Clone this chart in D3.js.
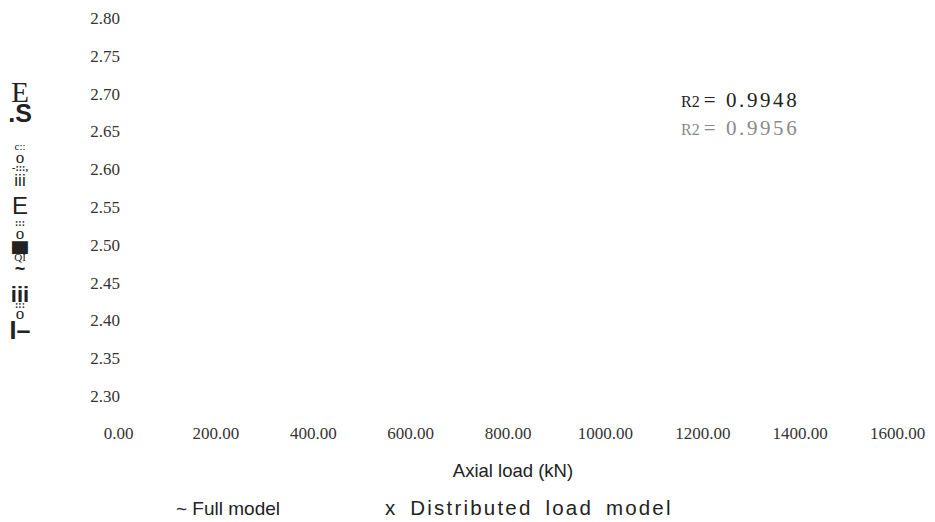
<!DOCTYPE html>
<html>
<head>
<meta charset="utf-8">
<script src="https://cdn.jsdelivr.net/npm/d3@7"></script>
<style>
  html, body { margin: 0; padding: 0; background: #fff; }
  svg { display: block; }
</style>
</head>
<body>
<svg id="chart" width="935" height="522"></svg>
<script>
// Axis ticks
const xTicks = [0, 200, 400, 600, 800, 1000, 1200, 1400, 1600];
const yTicks = [2.30, 2.35, 2.40, 2.45, 2.50, 2.55, 2.60, 2.65, 2.70, 2.75, 2.80];

// Fit annotations
const fitLabels = ["R2", "R2"];
const fitValues = ["0.9948", "0.9956"];

// Legend entries
const legendSymbols = ["~", "x"];
const legendNames = ["Full model", "Distributed load model"];

const xTitle = "Axial load (kN)";

// Vertical axis title, as stacked glyph groups (top to bottom)
const yTitleText = ["E", ".S", "c::", "o", "-:::,", "iii", "E", ":::", "o", "\u2588", "QI", "~", "iii", ":::", "o", "I\u2013"];
const yTitleFont = ["serif", "sans", "serif", "serif", "serif", "sans", "sans", "serif", "serif", "sans", "serif", "sans", "sans", "serif", "serif", "sans"];
const yTitleSize = [29, 25, 11, 17, 10, 17, 24, 10, 17, 14, 11, 18, 22, 10, 17, 25];
const yTitleWeight = [400, 700, 400, 400, 700, 400, 400, 700, 400, 400, 400, 700, 700, 700, 400, 700];
const yTitleBaseline = [102, 122, 150, 163, 171, 186, 214, 226, 239, 251, 261, 275, 302, 308, 319, 339];

const serif = "'Liberation Serif', 'Times New Roman', serif";
const sans = "'Liberation Sans', Arial, sans-serif";

const svg = d3.select("#chart");

const x = d3.scaleLinear().domain([0, 1600]).range([118, 897]);
const y = d3.scaleLinear().domain([2.30, 2.80]).range([396, 18]);

// X axis: labels only
const gx = svg.append("g")
  .attr("transform", "translate(0,427)")
  .call(d3.axisBottom(x).tickValues(xTicks).tickFormat(d3.format(".2f")).tickSize(0).tickPadding(0));
gx.select(".domain").remove();
gx.selectAll("text")
  .attr("font-family", serif).attr("font-size", 17).attr("fill", "#333").attr("dy", "0.71em");

// Y axis: labels only
const gy = svg.append("g")
  .attr("transform", "translate(120,0)")
  .call(d3.axisLeft(y).tickValues(yTicks).tickFormat(d3.format(".2f")).tickSize(0).tickPadding(0));
gy.select(".domain").remove();
gy.selectAll("text")
  .attr("font-family", serif).attr("font-size", 17).attr("fill", "#333");

// Y axis title
const yTitle = svg.append("g").attr("fill", "#222");
yTitle.selectAll("text")
  .data(yTitleText)
  .join("text")
  .attr("x", 20)
  .attr("y", (d, i) => yTitleBaseline[i])
  .attr("text-anchor", "middle")
  .attr("font-family", (d, i) => yTitleFont[i] === "serif" ? serif : sans)
  .attr("font-size", (d, i) => yTitleSize[i])
  .attr("font-weight", (d, i) => yTitleWeight[i])
  .attr("transform", (d, i) => d === "\u2588" ? "translate(20," + yTitleBaseline[i] + ") scale(1.6,0.75) translate(-20," + (-yTitleBaseline[i]) + ")" : null)
  .text(d => d);

// R² annotations
const fitColors = ["#222", "#8a8a8a"];
const fitY = [107, 135];
const fit = svg.append("g").selectAll("text")
  .data(fitLabels)
  .join("text")
  .attr("x", 681)
  .attr("y", (d, i) => fitY[i])
  .attr("fill", (d, i) => fitColors[i])
  .attr("font-family", serif);
fit.append("tspan").attr("font-size", 16).text(d => d);
fit.append("tspan").attr("font-size", 21).attr("dx", 4).attr("letter-spacing", 2.6).text((d, i) => "= " + fitValues[i]);

// X axis title
svg.append("text")
  .attr("x", 513).attr("y", 477)
  .attr("text-anchor", "middle")
  .attr("font-family", sans).attr("font-size", 18.5).attr("fill", "#222")
  .text(xTitle);

// Legend
const legendX = [176, 385];
const legendSize = [19, 20.5];
const legendLetterSpacing = [0, 2.2];
const legendWordSpacing = [0, 5];
svg.append("g").selectAll("text")
  .data(legendNames)
  .join("text")
  .attr("x", (d, i) => legendX[i])
  .attr("y", 515)
  .attr("font-family", sans).attr("font-size", (d, i) => legendSize[i]).attr("fill", "#222")
  .attr("letter-spacing", (d, i) => legendLetterSpacing[i])
  .attr("word-spacing", (d, i) => legendWordSpacing[i])
  .text((d, i) => legendSymbols[i] + " " + d);
</script>
</body>
</html>
